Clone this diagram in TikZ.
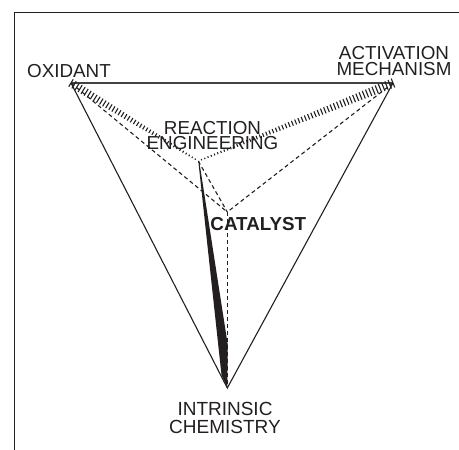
\documentclass[tikz,border=0pt]{standalone}
\usepackage{fontspec}
\setmainfont{Liberation Sans}
\usetikzlibrary{calc}
\definecolor{ink}{HTML}{231F20}
\begin{document}
\begin{tikzpicture}[x=1pt,y=-1pt,
  lbl/.style={text=ink, inner sep=0pt, align=center, anchor=base},
  tri/.style={line width=1.1pt, draw=ink},
  dsh/.style={line width=1.1pt, draw=ink, dash pattern=on 4pt off 3pt},
  tickline/.style={line width=1.1pt, draw=ink}]
\useasboundingbox (0,0) rectangle (459,450);
\draw[line width=1.3pt, draw=ink] (14.5,450) -- (14.5,12.3) -- (459,12.3);
\coordinate (O) at (71,83);
\coordinate (A) at (393,83);
\coordinate (I) at (227.3,388);
\coordinate (R) at (198.3,161);
\coordinate (C) at (227.3,212);
% triangle
\draw[tri, line width=1.4pt, draw=ink!85] (O) -- (A);
\draw[tri] (A) -- (I) -- (O);
% dashed
\draw[dsh] (O) -- (C);
\draw[dsh] (A) -- (C);
\draw[dsh] (R) -- (C);
\draw[dsh] (C) -- (I);
% hatched tapered links
\foreach \i in {0,...,41}{
  \pgfmathsetmacro\tpos{\i/42}
  \pgfmathsetmacro\tlen{4.3-3.7*\tpos}
  \path ($(O)!\tpos!(R)$) coordinate (p);
  \draw[tickline] ($(p)!\tlen pt!90:(R)$) -- ($(p)!\tlen pt!-90:(R)$);
}
\foreach \i in {0,...,59}{
  \pgfmathsetmacro\tpos{\i/60}
  \pgfmathsetmacro\tlen{4.7-4.1*\tpos}
  \path ($(A)!\tpos!(R)$) coordinate (q);
  \draw[tickline] ($(q)!\tlen pt!90:(R)$) -- ($(q)!\tlen pt!-90:(R)$);
}
% solid wedge
\fill[ink] (R) -- (199.2,161) -- (227.8,345) -- (I) -- (221.5,375) -- cycle;
% labels
\node[lbl, font=\fontsize{18.8}{16}\selectfont] (ox) at (69,77.5) {OXIDANT};
\node[lbl, font=\fontsize{18.8}{16}\selectfont] (am) at (394,75.5) {ACTIVATION\\MECHANISM};
\node[lbl, font=\fontsize{18.8}{15.4}\selectfont] (re) at (212.5,149.5) {REACTION\\ENGINEERING};
\node[lbl, font=\bfseries\fontsize{18.8}{16}\selectfont] (ca) at (258.3,230.7) {CATALYST};
\node[lbl, font=\fontsize{19}{18.3}\selectfont] (ic) at (225,433.3) {INTRINSIC\\CHEMISTRY};
\end{tikzpicture}
\end{document}
